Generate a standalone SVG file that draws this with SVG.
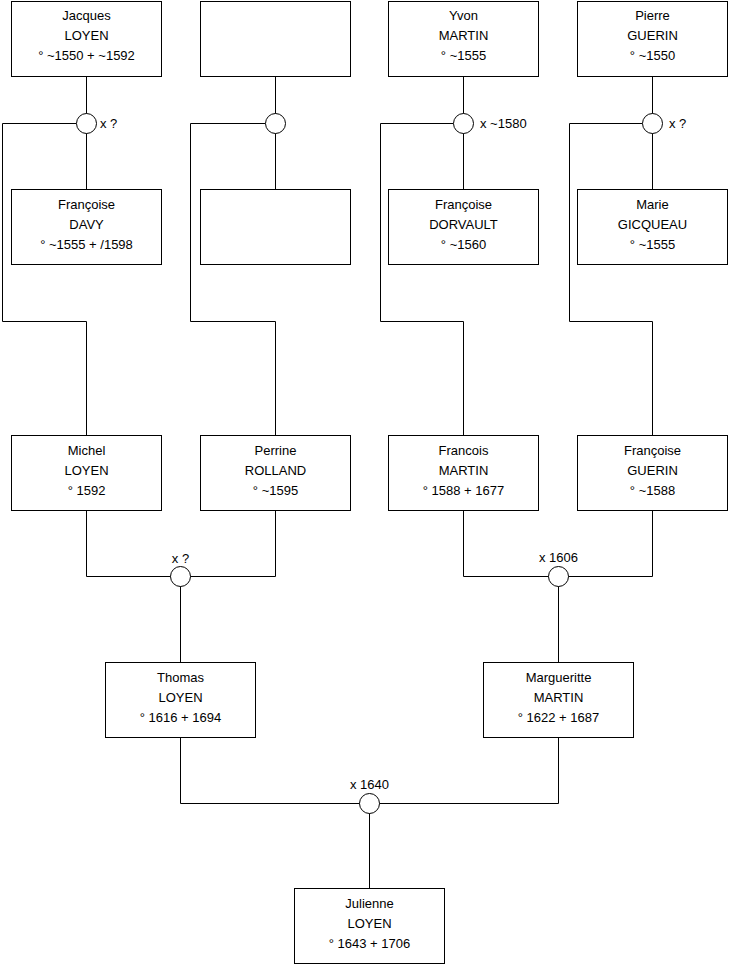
<svg xmlns="http://www.w3.org/2000/svg" width="740" height="975" viewBox="0 0 740 975">
<style>
.box{fill:#fff;stroke:#000;stroke-width:1}
.ln{fill:none;stroke:#000;stroke-width:1}
.ring{fill:#fff;stroke:#000;stroke-width:1}
text{font-family:"Liberation Sans",Arial,sans-serif;font-size:13px;fill:#000}
.c{text-anchor:middle}
</style>
<rect width="740" height="975" fill="#fff"/>
<g id="connectors">
<path class="ln" d="M86.5 76.5V189.5M76.5 123.5H2.5V321.5H86.5V435.5"/>
<path class="ln" d="M275.5 76.5V189.5M265.5 123.5H190.5V321.5H275.5V435.5"/>
<path class="ln" d="M463.5 76.5V189.5M453.5 123.5H380.5V321.5H463.5V435.5"/>
<path class="ln" d="M652.5 76.5V189.5M642.5 123.5H569.5V321.5H652.5V435.5"/>
<path class="ln" d="M86.5 510.5V576.5H275.5V510.5M180.5 576.5V662.5"/>
<path class="ln" d="M463.5 510.5V576.5H652.5V510.5M558.5 576.5V662.5"/>
<path class="ln" d="M180.5 737.5V803.5H558.5V737.5M369.5 803.5V888.5"/>
</g>
<g id="unions">
<g id="u1"><circle class="ring" cx="86.5" cy="123.5" r="10"/><text x="100" y="128">x ?</text></g>
<g id="u2"><circle class="ring" cx="275.5" cy="123.5" r="10"/></g>
<g id="u3"><circle class="ring" cx="463.5" cy="123.5" r="10"/><text x="480" y="128">x ~1580</text></g>
<g id="u4"><circle class="ring" cx="652.5" cy="123.5" r="10"/><text x="669" y="128">x ?</text></g>
<g id="u5"><circle class="ring" cx="180.5" cy="576.5" r="10"/><text class="c" x="180.5" y="563">x ?</text></g>
<g id="u6"><circle class="ring" cx="558.5" cy="576.5" r="10"/><text class="c" x="558.5" y="562">x 1606</text></g>
<g id="u7"><circle class="ring" cx="369.5" cy="803.5" r="10"/><text class="c" x="369.5" y="789">x 1640</text></g>
</g>
<g id="jacques"><rect class="box" x="11.5" y="1.5" width="150" height="75"/><text class="c" x="86.5" y="20">Jacques</text><text class="c" x="86.5" y="40">LOYEN</text><text class="c" x="86.5" y="60">° ~1550 + ~1592</text></g>
<g id="unknown1"><rect class="box" x="200.5" y="1.5" width="150" height="75"/></g>
<g id="yvon"><rect class="box" x="388.5" y="1.5" width="150" height="75"/><text class="c" x="463.5" y="20">Yvon</text><text class="c" x="463.5" y="40">MARTIN</text><text class="c" x="463.5" y="60">° ~1555</text></g>
<g id="pierre"><rect class="box" x="577.5" y="1.5" width="150" height="75"/><text class="c" x="652.5" y="20">Pierre</text><text class="c" x="652.5" y="40">GUERIN</text><text class="c" x="652.5" y="60">° ~1550</text></g>
<g id="francoise-davy"><rect class="box" x="11.5" y="189.5" width="150" height="75"/><text class="c" x="86.5" y="209">Françoise</text><text class="c" x="86.5" y="229">DAVY</text><text class="c" x="86.5" y="249">° ~1555 + /1598</text></g>
<g id="unknown2"><rect class="box" x="200.5" y="189.5" width="150" height="75"/></g>
<g id="francoise-dorvault"><rect class="box" x="388.5" y="189.5" width="150" height="75"/><text class="c" x="463.5" y="209">Françoise</text><text class="c" x="463.5" y="229">DORVAULT</text><text class="c" x="463.5" y="249">° ~1560</text></g>
<g id="marie"><rect class="box" x="577.5" y="189.5" width="150" height="75"/><text class="c" x="652.5" y="209">Marie</text><text class="c" x="652.5" y="229">GICQUEAU</text><text class="c" x="652.5" y="249">° ~1555</text></g>
<g id="michel"><rect class="box" x="11.5" y="435.5" width="150" height="75"/><text class="c" x="86.5" y="455">Michel</text><text class="c" x="86.5" y="475">LOYEN</text><text class="c" x="86.5" y="495">° 1592</text></g>
<g id="perrine"><rect class="box" x="200.5" y="435.5" width="150" height="75"/><text class="c" x="275.5" y="455">Perrine</text><text class="c" x="275.5" y="475">ROLLAND</text><text class="c" x="275.5" y="495">° ~1595</text></g>
<g id="francois"><rect class="box" x="388.5" y="435.5" width="150" height="75"/><text class="c" x="463.5" y="455">Francois</text><text class="c" x="463.5" y="475">MARTIN</text><text class="c" x="463.5" y="495">° 1588 + 1677</text></g>
<g id="francoise-guerin"><rect class="box" x="577.5" y="435.5" width="150" height="75"/><text class="c" x="652.5" y="455">Françoise</text><text class="c" x="652.5" y="475">GUERIN</text><text class="c" x="652.5" y="495">° ~1588</text></g>
<g id="thomas"><rect class="box" x="105.5" y="662.5" width="150" height="75"/><text class="c" x="180.5" y="682">Thomas</text><text class="c" x="180.5" y="702">LOYEN</text><text class="c" x="180.5" y="722">° 1616 + 1694</text></g>
<g id="margueritte"><rect class="box" x="483.5" y="662.5" width="150" height="75"/><text class="c" x="558.5" y="682">Margueritte</text><text class="c" x="558.5" y="702">MARTIN</text><text class="c" x="558.5" y="722">° 1622 + 1687</text></g>
<g id="julienne"><rect class="box" x="294.5" y="888.5" width="150" height="75"/><text class="c" x="369.5" y="908">Julienne</text><text class="c" x="369.5" y="928">LOYEN</text><text class="c" x="369.5" y="948">° 1643 + 1706</text></g>
</svg>
